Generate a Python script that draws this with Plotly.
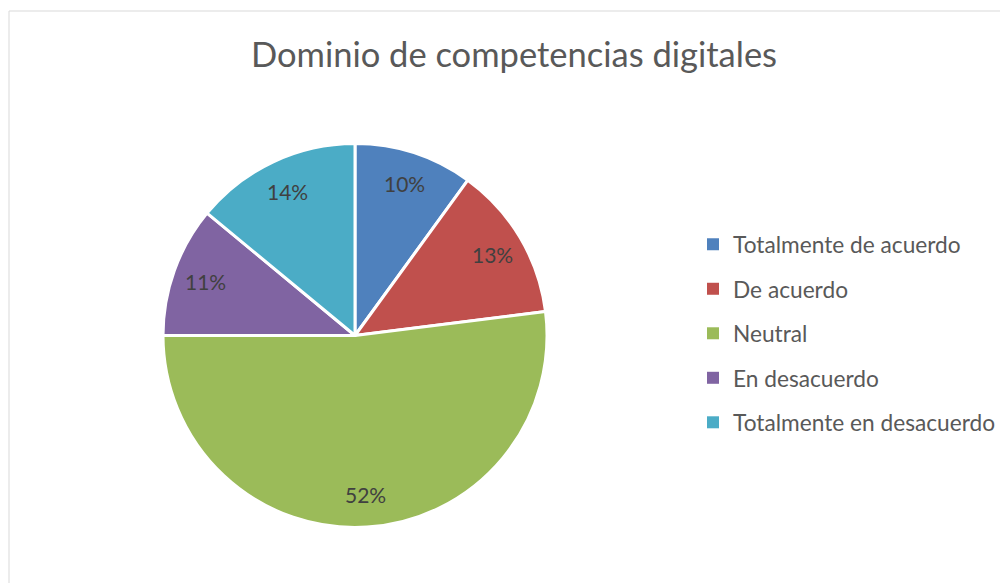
import math
import plotly.graph_objects as go

# data
categories = ["Totalmente de acuerdo", "De acuerdo", "Neutral",
              "En desacuerdo", "Totalmente en desacuerdo"]
values = [10, 13, 52, 11, 14]
colors = ["#4F81BD", "#C0504D", "#9BBB59", "#8064A2", "#4BACC6"]

# the page body adds an 8px margin, so the figure is made 8px smaller
# and every position read from the reference is shifted by 8px
OFF = 8
W, H = 1008 - OFF, 583 - OFF
FONT = "Lato"


def fx(px):
    return (px - OFF) / W


def fy(py):
    return 1 - (py - OFF) / H


# pie placement in reference pixels (left, right, top, bottom)
px_l, px_r, px_t, px_b = 163, 547, 143, 528

fig = go.Figure()

fig.add_trace(go.Pie(
    labels=categories,
    values=values,
    sort=False,
    direction="clockwise",
    rotation=0,
    marker=dict(colors=colors, line=dict(color="white", width=3)),
    textinfo="none",
    hoverinfo="label+percent",
    showlegend=False,
    domain=dict(x=[fx(px_l), fx(px_r)], y=[fy(px_b), fy(px_t)]),
))

# percentage labels placed at the middle angle of each slice
cx = (px_l + px_r) / 2
cy = (px_t + px_b) / 2
rad = (px_r - px_l) / 2 * 0.83
total = sum(values)
cum = 0
for v in values:
    mid = (cum + v / 2) / total * 2 * math.pi
    cum += v
    lx = cx + rad * math.sin(mid)
    ly = cy - rad * math.cos(mid)
    fig.add_annotation(
        x=fx(lx), y=fy(ly), xref="paper", yref="paper",
        xanchor="center", yanchor="middle",
        text=f"{round(v / total * 100)}%", showarrow=False,
        font=dict(family=FONT, size=21, color="#404040"),
    )

# legend built from dummy traces so the row spacing can be set
for name, c in zip(categories, colors):
    fig.add_trace(go.Scatter(
        x=[None], y=[None], mode="markers", name=name,
        legendgroup=name,
        marker=dict(symbol="square", size=9, color=c),
    ))

fig.update_layout(
    width=W, height=H,
    margin=dict(l=0, r=0, t=0, b=0),
    paper_bgcolor="white",
    plot_bgcolor="white",
    title=dict(
        text="Dominio de competencias digitales",
        x=fx(514), xanchor="center",
        y=fy(55), yanchor="middle",
        font=dict(family=FONT, size=34.5, color="#595959"),
    ),
    legend=dict(
        x=fx(693), xanchor="left",
        y=fy(223), yanchor="top",
        font=dict(family=FONT, size=22.7, color="#595959"),
        tracegroupgap=12,
        itemsizing="constant",
        bgcolor="rgba(0,0,0,0)",
    ),
    xaxis=dict(visible=False),
    yaxis=dict(visible=False),
    shapes=[dict(
        type="rect", xref="paper", yref="paper",
        x0=fx(9), x1=1.02, y0=-0.02, y1=fy(11),
        line=dict(color="#D9D9D9", width=1),
    )],
)

fig.write_html("out.html")
